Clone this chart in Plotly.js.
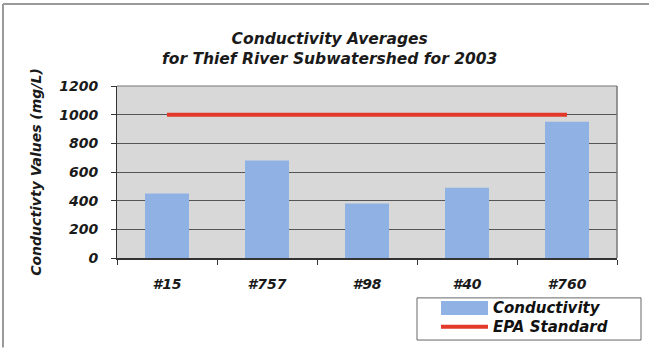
<!DOCTYPE html>
<html>
<head>
<meta charset="utf-8">
<script src="https://cdn.plot.ly/plotly-3.0.1.min.js"></script>
<style>
  html, body { margin: 0; padding: 0; background: #ffffff; }
  #chart { width: 649px; height: 348px; }
</style>
</head>
<body>
<div id="chart"></div>
<script>
// Sampling sites and their average conductivity (mg/L) for 2003
const sites = ['#15', '#757', '#98', '#40', '#760'];
const conductivity = [450, 680, 380, 490, 950];
// EPA standard level (mg/L), drawn across all sites
const epaStandard = [1000, 1000, 1000, 1000, 1000];
const yTicks = [0, 200, 400, 600, 800, 1000, 1200];

const FONT = 'DejaVu Sans, Liberation Sans, Arial, sans-serif';
const BLUE = '#8fb1e3';
const RED = '#e2392a';

const traces = [
  {
    type: 'bar',
    name: 'Conductivity',
    x: sites,
    y: conductivity,
    width: 0.44,
    marker: { color: BLUE, line: { width: 0 } },
    hoverinfo: 'x+y'
  },
  {
    type: 'scatter',
    mode: 'lines',
    name: 'EPA Standard',
    x: sites,
    y: epaStandard,
    line: { color: RED, width: 4 },
    hoverinfo: 'x+y'
  }
];

const boldItalic = (size, color) => ({
  family: FONT, size: size, color: color || '#1a1a1a', weight: 'bold', style: 'italic'
});

// Legend drawn in paper space under the lower-right of the plot
const legendLeft = 0.60, legendRight = 1.048;
const legendTop = -0.232, legendBottom = -0.477;

const layout = {
  width: 649,
  height: 348,
  margin: { l: 117, r: 32, t: 86, b: 90 },
  paper_bgcolor: '#ffffff',
  plot_bgcolor: '#d8d8d8',
  showlegend: false,
  bargap: 0.56,
  title: {
    text: '<b><i>Conductivity Averages<br>for Thief River Subwatershed for 2003</i></b>',
    font: boldItalic(15.5, '#1a1a1a'),
    x: 0.508,
    xanchor: 'center',
    y: 0.875,
    yanchor: 'top'
  },
  xaxis: {
    type: 'category',
    categoryorder: 'array',
    categoryarray: sites,
    range: [-0.5, 4.5],
    showline: true,
    linecolor: '#333333',
    linewidth: 2,
    ticks: 'outside',
    tickson: 'boundaries',
    ticklen: 5,
    tickcolor: '#333333',
    tickfont: boldItalic(14),
    ticklabelstandoff: 12,
    showgrid: false,
    zeroline: false,
    fixedrange: true
  },
  yaxis: {
    range: [0, 1200],
    tickvals: yTicks,
    ticktext: yTicks.map(String),
    showline: true,
    linecolor: '#333333',
    linewidth: 1,
    ticks: 'outside',
    ticklen: 5,
    tickcolor: '#333333',
    tickfont: boldItalic(14),
    ticklabelstandoff: 10,
    showgrid: true,
    gridcolor: '#555555',
    gridwidth: 1,
    zeroline: false,
    fixedrange: true,
    title: {
      text: 'Conductivty Values (mg/L)',
      font: boldItalic(14),
      standoff: 14
    }
  },
  shapes: [
    // plot frame on the top and right edges
    { type: 'line', xref: 'paper', yref: 'paper', x0: 1, x1: 1, y0: 0, y1: 1,
      line: { color: '#777777', width: 1.5 } },
    { type: 'line', xref: 'paper', yref: 'paper', x0: 0, x1: 1, y0: 1, y1: 1,
      line: { color: '#777777', width: 1 } },
    // outer chart frame, top and left
    { type: 'line', xref: 'paper', yref: 'paper', x0: -0.228, x1: 1.07, y0: 1.477, y1: 1.477,
      line: { color: '#9a9a9a', width: 2 } },
    { type: 'line', xref: 'paper', yref: 'paper', x0: -0.228, x1: -0.228, y0: 1.477, y1: -0.52,
      line: { color: '#9a9a9a', width: 2 } },
    // legend box
    { type: 'rect', xref: 'paper', yref: 'paper',
      x0: legendLeft, x1: legendRight, y0: legendBottom, y1: legendTop,
      line: { color: '#666666', width: 1 }, fillcolor: '#ffffff' },
    // legend swatch: bars
    { type: 'rect', xref: 'paper', yref: 'paper',
      x0: 0.648, x1: 0.742, y0: -0.331, y1: -0.25,
      line: { width: 0 }, fillcolor: BLUE },
    // legend swatch: standard line
    { type: 'line', xref: 'paper', yref: 'paper',
      x0: 0.648, x1: 0.742, y0: -0.40, y1: -0.40,
      line: { color: RED, width: 4 } }
  ],
  annotations: [
    { xref: 'paper', yref: 'paper', x: 0.748, y: -0.29, xanchor: 'left', yanchor: 'middle',
      text: 'Conductivity', showarrow: false, font: boldItalic(15, '#111111') },
    { xref: 'paper', yref: 'paper', x: 0.748, y: -0.40, xanchor: 'left', yanchor: 'middle',
      text: 'EPA Standard', showarrow: false, font: boldItalic(15, '#111111') }
  ]
};

Plotly.newPlot('chart', traces, layout, { displayModeBar: false, staticPlot: true });
</script>
</body>
</html>
